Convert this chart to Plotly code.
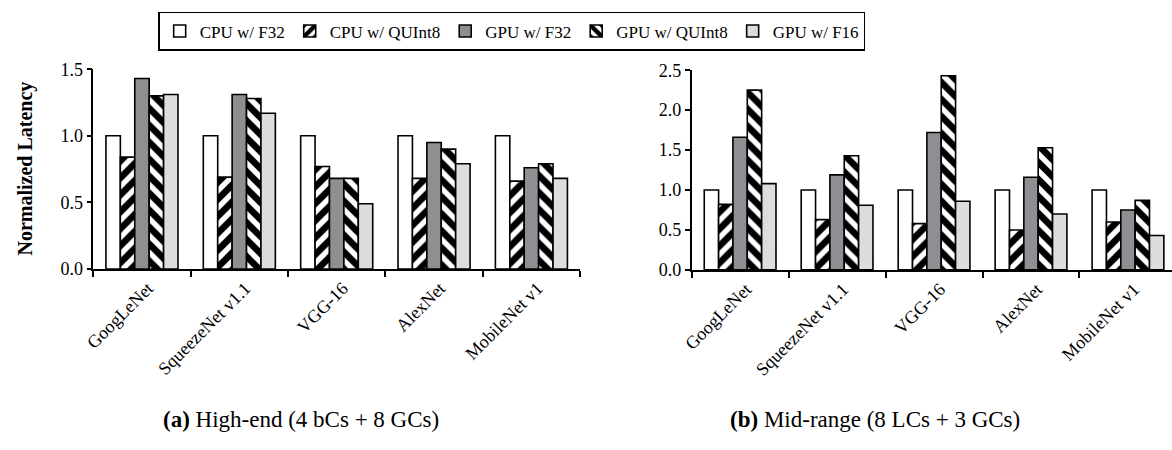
import plotly.graph_objects as go

categories = ["GoogLeNet", "SqueezeNet v1.1", "VGG-16", "AlexNet", "MobileNet v1"]
series_names = ["CPU w/ F32", "CPU w/ QUInt8", "GPU w/ F32", "GPU w/ QUInt8", "GPU w/ F16"]

# (a) High-end
high_cpu_f32 = [1.00, 1.00, 1.00, 1.00, 1.00]
high_cpu_q8 = [0.84, 0.69, 0.77, 0.68, 0.66]
high_gpu_f32 = [1.43, 1.31, 0.68, 0.95, 0.76]
high_gpu_q8 = [1.30, 1.28, 0.68, 0.90, 0.79]
high_gpu_f16 = [1.31, 1.17, 0.49, 0.79, 0.68]

# (b) Mid-range
mid_cpu_f32 = [1.00, 1.00, 1.00, 1.00, 1.00]
mid_cpu_q8 = [0.82, 0.63, 0.58, 0.50, 0.60]
mid_gpu_f32 = [1.66, 1.19, 1.72, 1.16, 0.75]
mid_gpu_q8 = [2.25, 1.43, 2.43, 1.53, 0.87]
mid_gpu_f16 = [1.08, 0.81, 0.86, 0.70, 0.43]

y_ticks_a = [0.0, 0.5, 1.0, 1.5]
y_ticks_b = [0.0, 0.5, 1.0, 1.5, 2.0, 2.5]

W, H = 1172, 450
FONT = "Liberation Serif"

hatch = dict(fgcolor="#000000", bgcolor="white", size=12, solidity=0.55, fgopacity=1, fillmode="replace")
styles = [
    dict(marker_color="white", marker_pattern=dict(shape="")),
    dict(marker_color="white", marker_pattern=dict(shape="/", **hatch)),
    dict(marker_color="#8e8f93", marker_pattern=dict(shape="")),
    dict(marker_color="white", marker_pattern=dict(shape="\\", **hatch)),
    dict(marker_color="#dcdddf", marker_pattern=dict(shape="")),
]

fig = go.Figure()
high = [high_cpu_f32, high_cpu_q8, high_gpu_f32, high_gpu_q8, high_gpu_f16]
mid = [mid_cpu_f32, mid_cpu_q8, mid_gpu_f32, mid_gpu_q8, mid_gpu_f16]

for i, (name, vals) in enumerate(zip(series_names, high)):
    fig.add_trace(go.Bar(x=categories, y=vals, name=name, legendgroup=name,
                         marker_line_color="black", marker_line_width=1.6,
                         xaxis="x", yaxis="y", **styles[i]))
for i, (name, vals) in enumerate(zip(series_names, mid)):
    fig.add_trace(go.Bar(x=categories, y=vals, name=name, legendgroup=name, showlegend=False,
                         marker_line_color="black", marker_line_width=1.6,
                         xaxis="x2", yaxis="y2", **styles[i]))

def px_x(p):
    return p / W

def px_y(p):
    return 1 - p / H

axis_common = dict(showline=True, linecolor="black", linewidth=1.5, showgrid=False, zeroline=False,
                   ticks="outside", tickcolor="black", tickwidth=1.5)

cat_w_b = 97.8
right_span = (W - 687.5) / cat_w_b

xfont = dict(family=FONT, size=18, color="black")
yfont = dict(family=FONT, size=18, color="black")

fig.update_layout(
    width=W, height=H,
    margin=dict(l=0, r=0, t=0, b=0),
    paper_bgcolor="white", plot_bgcolor="white",
    barmode="group", bargap=0.26, bargroupgap=0,
    font=dict(family=FONT, size=16, color="black"),
    xaxis=dict(domain=[px_x(84), px_x(575)], anchor="y", range=[-0.5, 4.5],
               tickson="boundaries", ticklen=6, tickangle=-45, tickfont=xfont,
               ticklabelshift=6, **axis_common),
    yaxis=dict(domain=[px_y(271), px_y(62)], anchor="x", range=[0, 1.5],
               tickvals=y_ticks_a, tickformat=".1f", ticklen=5, tickfont=yfont, **axis_common),
    xaxis2=dict(domain=[px_x(687.5), 1.0], anchor="y2", range=[-0.5, -0.5 + right_span],
                tickson="boundaries", ticklen=6, tickangle=-45, tickfont=xfont,
                ticklabelshift=6, **axis_common),
    yaxis2=dict(domain=[px_y(272), px_y(63)], anchor="x2", range=[0, 2.5],
                tickvals=y_ticks_b, tickformat=".1f", ticklen=5, tickfont=yfont, **axis_common),
    legend=dict(orientation="h", x=px_x(506), xanchor="center", y=px_y(2), yanchor="top",
                bordercolor="black", borderwidth=1.5, bgcolor="white",
                font=dict(family=FONT, size=17, color="black"),
                itemwidth=30, traceorder="normal"),
    annotations=[
        dict(text="<b>Normalized Latency</b>", x=px_x(16), y=px_y(166), xref="paper", yref="paper",
             xanchor="center", yanchor="middle",
             textangle=-90, showarrow=False, font=dict(family=FONT, size=20, color="black")),
        dict(text="<b>(a)</b> High-end (4 bCs + 8 GCs)", x=px_x(293), y=px_y(429), xref="paper", yref="paper",
             xanchor="center", yanchor="middle",
             showarrow=False, font=dict(family=FONT, size=23, color="black")),
        dict(text="<b>(b)</b> Mid-range (8 LCs + 3 GCs)", x=px_x(872), y=px_y(429), xref="paper", yref="paper",
             xanchor="center", yanchor="middle",
             showarrow=False, font=dict(family=FONT, size=23, color="black")),
    ],
)

fig.write_html("out.html")
